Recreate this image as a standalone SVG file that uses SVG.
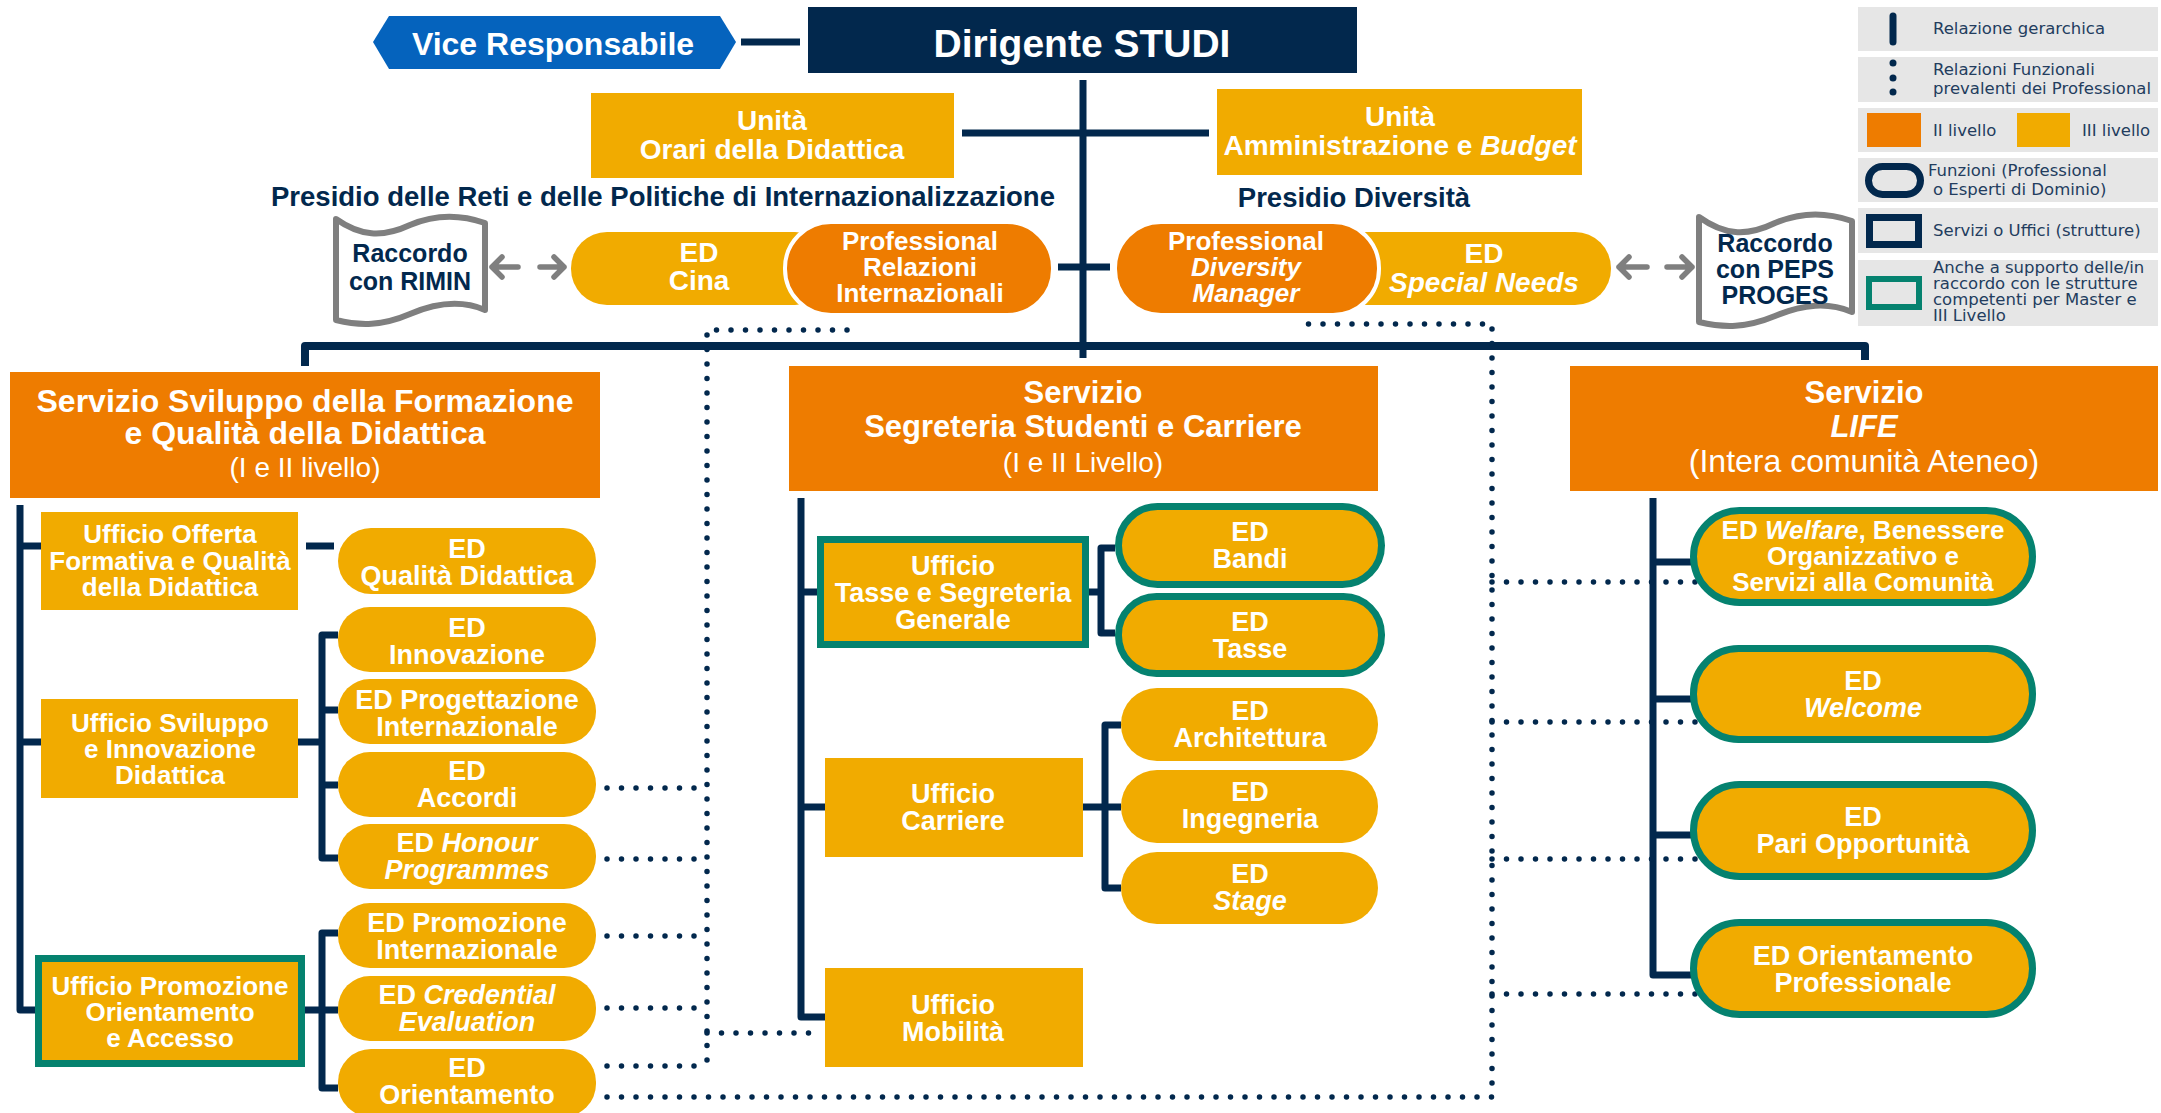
<svg xmlns="http://www.w3.org/2000/svg" width="2161" height="1113" viewBox="0 0 2161 1113">
<style>
.nv{stroke:#02284D;stroke-width:7;fill:none;stroke-linejoin:round}
.bus{stroke:#02284D;stroke-width:8;fill:none;stroke-linejoin:round}
.dt{stroke:#02284D;stroke-width:5.5;fill:none;stroke-linecap:round;stroke-dasharray:0 14.5}
.ar{stroke:#7F7F7F;stroke-width:5.5;fill:none;stroke-linecap:round;stroke-linejoin:round}
.y{fill:#F1AB00}
.o{fill:#EE7C00}
.tl{fill:#F1AB00;stroke:#05826F;stroke-width:7}
.doc{fill:#fff;stroke:#7F7F7F;stroke-width:6;stroke-linejoin:round}
.t{font-family:"Liberation Sans",Arial,sans-serif;font-weight:bold;fill:#fff;text-anchor:middle}
.n{fill:#02284D}
.lt{font-weight:normal}
.i{font-style:italic}
.s25{font-size:25px}.s26{font-size:26px}.s27{font-size:27px}.s28{font-size:28px}.s31{font-size:31px}.s32{font-size:32px}.s39{font-size:39px}.s275{font-size:27.5px}
.lg{font-family:"DejaVu Sans","Liberation Sans",sans-serif;font-size:16.5px;fill:#233D5E}
.lgb{fill:#E6E6E6}
</style>

<g id="connectors">
  <path class="nv" d="M741,42 H800"/>
  <path class="nv" d="M1083,80 V358"/>
  <path class="nv" d="M962,133 H1209"/>
  <path class="nv" d="M1058,267 H1110"/>
  <path class="bus" d="M305,366 V346 H1865 V360"/>
  <path class="nv" d="M20,505 V1010 H36"/>
  <path class="nv" d="M20,546 H41 M20,742 H41"/>
  <path class="nv" d="M306,546 H334"/>
  <path class="nv" d="M298,742 H322 M338,635 H322 V858 H338 M322,710 H338 M322,785 H338"/>
  <path class="nv" d="M305,1010 H338 M338,933 H322 V1088 H338"/>
  <path class="nv" d="M801,498 V1017 H825"/>
  <path class="nv" d="M801,592 H817 M801,807 H825"/>
  <path class="nv" d="M1089,592 H1101 M1115,548 H1101 V633 H1115"/>
  <path class="nv" d="M1083,807 H1121 M1121,725 H1105 V888 H1121"/>
  <path class="nv" d="M1653,498 V975 H1697"/>
  <path class="nv" d="M1653,562 H1697 M1653,699 H1697 M1653,835 H1697"/>
  <path class="dt" d="M847,330 H707 V1066"/>
  <path class="dt" d="M607,788 H707 M607,859 H707 M607,936 H707 M607,1008 H707 M607,1066 H707"/>
  <path class="dt" d="M707,1033 H817"/>
  <path class="dt" d="M607,1097 H1492 V324 H1296"/>
  <path class="dt" d="M1492,582 H1697 M1492,722 H1697 M1492,859 H1697 M1492,994 H1697"/>
  <path class="ar" d="M518,267 H492 M502,257 L492,267 L502,277"/>
  <path class="ar" d="M540,267 H564 M554,257 L564,267 L554,277"/>
  <path class="ar" d="M1647,267 H1619 M1629,257 L1619,267 L1629,277"/>
  <path class="ar" d="M1667,267 H1692 M1682,257 L1692,267 L1682,277"/>
</g>

<g id="vice">
  <polygon points="373,42 389,16 720,16 736,42 720,69 389,69" fill="#0563BD"/>
  <text class="t s32" x="553" y="55">Vice Responsabile</text>
</g>
<g id="dirigente">
  <rect x="808" y="7" width="549" height="66" fill="#02284D"/>
  <text class="t s39" x="1082" y="57">Dirigente STUDI</text>
</g>
<g id="unita-orari">
  <rect class="y" x="591" y="93" width="363" height="85"/>
  <text class="t s28" x="772" y="130">Unità</text>
  <text class="t s28" x="772" y="159">Orari della Didattica</text>
</g>
<g id="unita-amministrazione">
  <rect class="y" x="1217" y="89" width="365" height="86"/>
  <text class="t s28" x="1400" y="126">Unità</text>
  <text class="t s28" x="1400" y="155">Amministrazione e <tspan class="i">Budget</tspan></text>
</g>
<g id="presidio-reti">
  <text class="t n s275" x="663" y="206">Presidio delle Reti e delle Politiche di Internazionalizzazione</text>
</g>
<g id="presidio-diversita">
  <text class="t n s275" x="1354" y="207">Presidio Diversità</text>
</g>
<g id="raccordo-rimin">
  <path class="doc" transform="translate(336,216)" d="M0,3 C24,20 46,22 74,9 C102,-3 126,-1 149,7 L149,94 C126,84 102,86 74,98 C46,110 24,110 0,104 Z"/>
  <text class="t n s25" x="410" y="262">Raccordo</text>
  <text class="t n s25" x="410" y="290">con RIMIN</text>
</g>
<g id="raccordo-peps">
  <path class="doc" transform="translate(1699,214)" d="M0,3 C25,21 47,23 76,9 C105,-3 129,-1 153,7 L153,98 C129,88 105,90 76,102 C47,114 25,114 0,108 Z"/>
  <text class="t n s25" x="1775" y="252">Raccordo</text>
  <text class="t n s25" x="1775" y="278">con PEPS</text>
  <text class="t n s25" x="1775" y="304">PROGES</text>
</g>
<g id="ed-cina">
  <rect class="y" x="571" y="232" width="260" height="73" rx="36"/>
  <text class="t s28" x="699" y="262">ED</text>
  <text class="t s28" x="699" y="290">Cina</text>
</g>
<g id="prof-relazioni">
  <rect class="o" x="785" y="222" width="268" height="93" rx="46" stroke="#fff" stroke-width="4"/>
  <text class="t s26" x="920" y="250">Professional</text>
  <text class="t s26" x="920" y="276">Relazioni</text>
  <text class="t s26" x="920" y="302">Internazionali</text>
</g>
<g id="ed-special-needs">
  <rect class="y" x="1330" y="232" width="281" height="73" rx="36"/>
  <text class="t s28" x="1484" y="263">ED</text>
  <text class="t s28 i" x="1484" y="292">Special Needs</text>
</g>
<g id="prof-diversity">
  <rect class="o" x="1115" y="222" width="264" height="93" rx="46" stroke="#fff" stroke-width="4"/>
  <text class="t s26" x="1246" y="250">Professional</text>
  <text class="t s26 i" x="1246" y="276">Diversity</text>
  <text class="t s26 i" x="1246" y="302">Manager</text>
</g>

<g id="servizio-sviluppo">
  <rect class="o" x="10" y="372" width="590" height="126"/>
  <text class="t s32" x="305" y="412">Servizio Sviluppo della Formazione</text>
  <text class="t s32" x="305" y="444">e Qualità della Didattica</text>
  <text class="t lt s28" x="305" y="477">(I e II livello)</text>
</g>
<g id="servizio-segreteria">
  <rect class="o" x="789" y="366" width="589" height="125"/>
  <text class="t s31" x="1083" y="403">Servizio</text>
  <text class="t s31" x="1083" y="437">Segreteria Studenti e Carriere</text>
  <text class="t lt s28" x="1083" y="472">(I e II Livello)</text>
</g>
<g id="servizio-life">
  <rect class="o" x="1570" y="366" width="588" height="125"/>
  <text class="t s31" x="1864" y="403">Servizio</text>
  <text class="t s31 i" x="1864" y="437">LIFE</text>
  <text class="t lt s32" x="1864" y="472">(Intera comunità Ateneo)</text>
</g>

<g id="ufficio-offerta">
  <rect class="y" x="41" y="512" width="257" height="98"/>
  <text class="t s26" x="170" y="543">Ufficio Offerta</text>
  <text class="t s26" x="170" y="570">Formativa e Qualità</text>
  <text class="t s26" x="170" y="596">della Didattica</text>
</g>
<g id="ufficio-sviluppo">
  <rect class="y" x="41" y="699" width="257" height="99"/>
  <text class="t s26" x="170" y="732">Ufficio Sviluppo</text>
  <text class="t s26" x="170" y="758">e Innovazione</text>
  <text class="t s26" x="170" y="784">Didattica</text>
</g>
<g id="ufficio-promozione">
  <rect class="tl" x="38.5" y="958.5" width="263" height="105"/>
  <text class="t s26" x="170" y="995">Ufficio Promozione</text>
  <text class="t s26" x="170" y="1021">Orientamento</text>
  <text class="t s26" x="170" y="1047">e Accesso</text>
</g>
<g id="ed-qualita">
  <rect class="y" x="338" y="528" width="258" height="66" rx="33"/>
  <text class="t s27" x="467" y="558">ED</text>
  <text class="t s27" x="467" y="585">Qualità Didattica</text>
</g>
<g id="ed-innovazione">
  <rect class="y" x="338" y="607" width="258" height="65" rx="32"/>
  <text class="t s27" x="467" y="637">ED</text>
  <text class="t s27" x="467" y="664">Innovazione</text>
</g>
<g id="ed-progettazione">
  <rect class="y" x="338" y="679" width="258" height="65" rx="32"/>
  <text class="t s27" x="467" y="709">ED Progettazione</text>
  <text class="t s27" x="467" y="736">Internazionale</text>
</g>
<g id="ed-accordi">
  <rect class="y" x="338" y="752" width="258" height="65" rx="32"/>
  <text class="t s27" x="467" y="780">ED</text>
  <text class="t s27" x="467" y="807">Accordi</text>
</g>
<g id="ed-honour">
  <rect class="y" x="338" y="824" width="258" height="65" rx="32"/>
  <text class="t s27" x="467" y="852">ED <tspan class="i">Honour</tspan></text>
  <text class="t s27 i" x="467" y="879">Programmes</text>
</g>
<g id="ed-promozione-int">
  <rect class="y" x="338" y="903" width="258" height="65" rx="32"/>
  <text class="t s27" x="467" y="932">ED Promozione</text>
  <text class="t s27" x="467" y="959">Internazionale</text>
</g>
<g id="ed-credential">
  <rect class="y" x="338" y="976" width="258" height="65" rx="32"/>
  <text class="t s27" x="467" y="1004">ED <tspan class="i">Credential</tspan></text>
  <text class="t s27 i" x="467" y="1031">Evaluation</text>
</g>
<g id="ed-orientamento">
  <rect class="y" x="338" y="1049" width="258" height="68" rx="33"/>
  <text class="t s27" x="467" y="1077">ED</text>
  <text class="t s27" x="467" y="1104">Orientamento</text>
</g>

<g id="ufficio-tasse">
  <rect class="tl" x="820.5" y="539.5" width="265" height="105"/>
  <text class="t s27" x="953" y="575">Ufficio</text>
  <text class="t s27" x="953" y="602">Tasse e Segreteria</text>
  <text class="t s27" x="953" y="629">Generale</text>
</g>
<g id="ufficio-carriere">
  <rect class="y" x="825" y="758" width="258" height="99"/>
  <text class="t s27" x="953" y="803">Ufficio</text>
  <text class="t s27" x="953" y="830">Carriere</text>
</g>
<g id="ufficio-mobilita">
  <rect class="y" x="825" y="968" width="258" height="99"/>
  <text class="t s27" x="953" y="1014">Ufficio</text>
  <text class="t s27" x="953" y="1041">Mobilità</text>
</g>
<g id="ed-bandi">
  <rect class="tl" x="1118.5" y="506.5" width="263" height="78" rx="39"/>
  <text class="t s27" x="1250" y="541">ED</text>
  <text class="t s27" x="1250" y="568">Bandi</text>
</g>
<g id="ed-tasse">
  <rect class="tl" x="1118.5" y="596.5" width="263" height="77" rx="38"/>
  <text class="t s27" x="1250" y="631">ED</text>
  <text class="t s27" x="1250" y="658">Tasse</text>
</g>
<g id="ed-architettura">
  <rect class="y" x="1121" y="688" width="257" height="73" rx="36"/>
  <text class="t s27" x="1250" y="720">ED</text>
  <text class="t s27" x="1250" y="747">Architettura</text>
</g>
<g id="ed-ingegneria">
  <rect class="y" x="1121" y="770" width="257" height="73" rx="36"/>
  <text class="t s27" x="1250" y="801">ED</text>
  <text class="t s27" x="1250" y="828">Ingegneria</text>
</g>
<g id="ed-stage">
  <rect class="y" x="1121" y="852" width="257" height="72" rx="36"/>
  <text class="t s27" x="1250" y="883">ED</text>
  <text class="t s27 i" x="1250" y="910">Stage</text>
</g>

<g id="ed-welfare">
  <rect class="tl" x="1693.5" y="510.5" width="339" height="92" rx="46"/>
  <text class="t s26" x="1863" y="539">ED <tspan class="i">Welfare</tspan>, Benessere</text>
  <text class="t s26" x="1863" y="565">Organizzativo e</text>
  <text class="t s26" x="1863" y="591">Servizi alla Comunità</text>
</g>
<g id="ed-welcome">
  <rect class="tl" x="1693.5" y="648.5" width="339" height="91" rx="45"/>
  <text class="t s27" x="1863" y="690">ED</text>
  <text class="t s27 i" x="1863" y="717">Welcome</text>
</g>
<g id="ed-pari">
  <rect class="tl" x="1693.5" y="784.5" width="339" height="92" rx="46"/>
  <text class="t s27" x="1863" y="826">ED</text>
  <text class="t s27" x="1863" y="853">Pari Opportunità</text>
</g>
<g id="ed-orientamento-prof">
  <rect class="tl" x="1693.5" y="922.5" width="339" height="92" rx="46"/>
  <text class="t s27" x="1863" y="965">ED Orientamento</text>
  <text class="t s27" x="1863" y="992">Professionale</text>
</g>

<g id="legend">
  <rect class="lgb" x="1858" y="7" width="300" height="44"/>
  <rect class="lgb" x="1858" y="57" width="300" height="45"/>
  <rect class="lgb" x="1858" y="108" width="300" height="44"/>
  <rect class="lgb" x="1858" y="158" width="300" height="44"/>
  <rect class="lgb" x="1858" y="208" width="300" height="45"/>
  <rect class="lgb" x="1858" y="260" width="300" height="66"/>
  <line x1="1893" y1="16" x2="1893" y2="42" stroke="#02284D" stroke-width="7" stroke-linecap="round"/>
  <circle cx="1893" cy="63" r="3.5" fill="#02284D"/>
  <circle cx="1893" cy="78" r="3.5" fill="#02284D"/>
  <circle cx="1893" cy="92" r="3.5" fill="#02284D"/>
  <rect class="o" x="1867" y="113" width="54" height="34"/>
  <rect class="y" x="2017" y="113" width="53" height="34"/>
  <rect x="1868.5" y="166.5" width="52" height="28" rx="14" fill="none" stroke="#02284D" stroke-width="7"/>
  <rect x="1869.5" y="217.5" width="49" height="27" fill="none" stroke="#02284D" stroke-width="7"/>
  <rect x="1869" y="279" width="50" height="28" fill="none" stroke="#05826F" stroke-width="6"/>
  <text class="lg" x="1933" y="34">Relazione gerarchica</text>
  <text class="lg" x="1933" y="75">Relazioni Funzionali</text>
  <text class="lg" x="1933" y="94">prevalenti dei Professional</text>
  <text class="lg" x="1933" y="136">II livello</text>
  <text class="lg" x="2082" y="136">III livello</text>
  <text class="lg" x="1928" y="176">Funzioni (Professional</text>
  <text class="lg" x="1933" y="195">o Esperti di Dominio)</text>
  <text class="lg" x="1933" y="236">Servizi o Uffici (strutture)</text>
  <text class="lg" x="1933" y="273" font-size="15.5">Anche a supporto delle/in</text>
  <text class="lg" x="1933" y="289" font-size="15.5">raccordo con le strutture</text>
  <text class="lg" x="1933" y="305" font-size="15.5">competenti per Master e</text>
  <text class="lg" x="1933" y="321" font-size="15.5">III Livello</text>
</g>
</svg>
